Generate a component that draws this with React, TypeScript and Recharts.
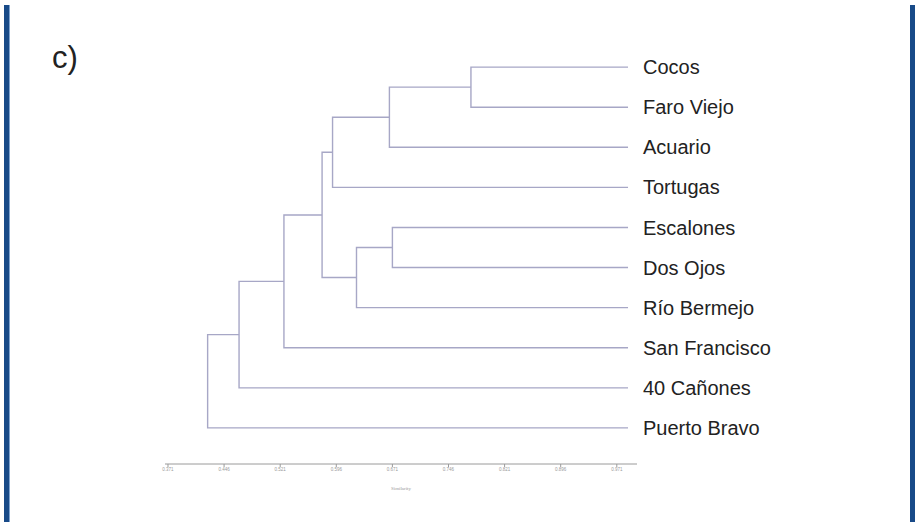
import React from 'react';
import { ScatterChart, Scatter, XAxis, YAxis } from 'recharts';

// Leaves (top to bottom)
const leaves = ['Cocos', 'Faro Viejo', 'Acuario', 'Tortugas', 'Escalones', 'Dos Ojos', 'Río Bermejo', 'San Francisco', '40 Cañones', 'Puerto Bravo'];
const leafSimilarity = 0.986;

// Linkage: cluster ids 0..9 are leaves, 10+ are merges in order
const mergeA = [0, 4, 10, 11, 12, 14, 15, 16, 17];
const mergeB = [1, 5, 2, 6, 3, 13, 7, 8, 9];
const mergeSimilarity = [0.776, 0.671, 0.667, 0.623, 0.591, 0.577, 0.526, 0.466, 0.424];

// Axis ticks
const xTicks = [0.371, 0.446, 0.521, 0.596, 0.671, 0.746, 0.821, 0.896, 0.971];
const xTickLabels = ['0.371', '0.446', '0.521', '0.596', '0.671', '0.746', '0.821', '0.896', '0.971'];
const xTitle = 'Similarity';
const panelLabel = 'c)';

type Pt = { x: number; y: number };

function buildBrackets(): Pt[][] {
  const nx: number[] = leaves.map(() => leafSimilarity);
  const ny: number[] = leaves.map((_, i) => i);
  const out: Pt[][] = [];
  mergeA.forEach((a, k) => {
    const b = mergeB[k];
    const h = mergeSimilarity[k];
    out.push([
      { x: nx[a], y: ny[a] },
      { x: h, y: ny[a] },
      { x: h, y: ny[b] },
      { x: nx[b], y: ny[b] },
    ]);
    nx.push(h);
    ny.push((ny[a] + ny[b]) / 2);
  });
  return out;
}

const brackets = buildBrackets();
const renderNothing = () => <g />;
const LINE = '#a7a7c6';

export default function App() {
  return (
    <div style={{ position: 'absolute', left: 0, top: 0, width: 915, height: 522, background: '#fff', overflow: 'hidden' }}>
      <div style={{ position: 'absolute', left: 4, top: 5, width: 5, height: 517, background: '#184a88' }} />
      <div style={{ position: 'absolute', left: 9, top: 5, width: 1, height: 517, background: '#7fa3cf' }} />
      <div style={{ position: 'absolute', left: 910, top: 5, width: 5, height: 517, background: '#184a88' }} />
      <div style={{ position: 'absolute', left: 52, top: 40, fontFamily: '"Liberation Sans", Arial, sans-serif', fontSize: 31, color: '#222', lineHeight: '36px' }}>{panelLabel}</div>
      <div style={{ position: 'absolute', left: 0, top: 0 }}>
        <ScatterChart width={915} height={522} margin={{ top: 27, right: 0, bottom: 18, left: 165 }}>
          <XAxis
            type="number"
            dataKey="x"
            domain={[0.367, 0.998]}
            ticks={xTicks}
            tickFormatter={(v: number) => xTickLabels[xTicks.indexOf(v)] ?? ''}
            height={40}
            stroke="#9a9a9a"
            tickSize={3}
            tickMargin={1}
            tick={{ fontSize: 4.5, fill: '#9a9a9a', fontFamily: '"Liberation Sans", Arial, sans-serif' }}
            label={{ value: xTitle, position: 'insideBottom', offset: 14, fontSize: 5, fill: '#9a9a9a' }}
            allowDataOverflow
          />
          <YAxis
            type="number"
            dataKey="y"
            orientation="right"
            reversed
            domain={[-1, 9.9]}
            ticks={leaves.map((_, i) => i)}
            tickFormatter={(v: number) => leaves[v] ?? ''}
            width={278}
            axisLine={false}
            tickLine={false}
            tickMargin={0}
            tick={{ fontSize: 20, fill: '#222', fontFamily: '"Liberation Sans", Arial, sans-serif' }}
            allowDataOverflow
            interval={0}
          />
          {brackets.map((pts, i) => (
            <Scatter
              key={i}
              data={pts}
              line={{ stroke: LINE, strokeWidth: 1.4 }}
              lineType="joint"
              shape={renderNothing}
              isAnimationActive={false}
            />
          ))}
        </ScatterChart>
      </div>
    </div>
  );
}
